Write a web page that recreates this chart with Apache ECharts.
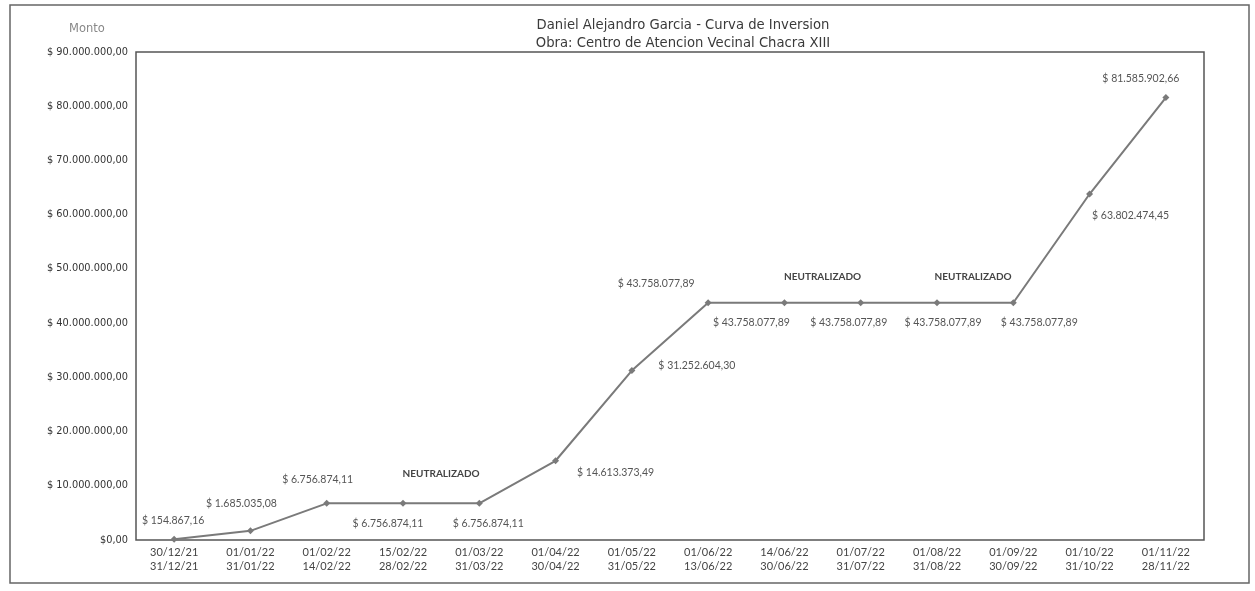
<!DOCTYPE html>
<html>
<head>
<meta charset="utf-8">
<script src="https://cdn.jsdelivr.net/npm/echarts@6/dist/echarts.min.js"></script>
<style>
  html, body { margin: 0; padding: 0; background: #ffffff; }
  #chart { width: 1255px; height: 591px; }
</style>
</head>
<body>
<div id="chart"></div>
<script>
// ---- Data ----
const periodStart = ['30/12/21','01/01/22','01/02/22','15/02/22','01/03/22','01/04/22','01/05/22','01/06/22','14/06/22','01/07/22','01/08/22','01/09/22','01/10/22','01/11/22'];
const periodEnd   = ['31/12/21','31/01/22','14/02/22','28/02/22','31/03/22','30/04/22','31/05/22','13/06/22','30/06/22','31/07/22','31/08/22','30/09/22','31/10/22','28/11/22'];
const montos = [154867.16, 1685035.08, 6756874.11, 6756874.11, 6756874.11, 14613373.49, 31252604.30, 43758077.89, 43758077.89, 43758077.89, 43758077.89, 43758077.89, 63802474.45, 81585902.66];
const yMin = 0, yMax = 90000000, yStep = 10000000;
const neutralText = 'NEUTRALIZADO';
const neutralPairs = [[3, 4], [8, 9], [10, 11]];
const titleLines = ['Daniel Alejandro Garcia - Curva de Inversion', 'Obra: Centro de Atencion Vecinal Chacra XIII'];
const yAxisName = 'Monto';

// ---- Styling (label placement around each point, in px) ----
const labelOffsets = [[-1,-19],[-9,-27],[-9,-24],[-15,20],[9,20],[60,12],[65,-5],[-52,-19],[-33,20],[-12,20],[6,20],[26,20],[41,22],[-25,-19]];
const neutralOffsets = [[0,-30],[0,-26],[-2,-26]];

function fmtNum(v) {
  const parts = v.toFixed(2).split('.');
  const ints = parts[0].replace(/\B(?=(\d{3})+(?!\d))/g, '.');
  return ints + ',' + parts[1];
}

const categories = periodStart.map((s, i) => s + '\n' + periodEnd[i]);

const chart = echarts.init(document.getElementById('chart'), null, { renderer: 'canvas' });

const option = {
  backgroundColor: '#ffffff',
  animation: false,
  title: {
    text: titleLines.join('\n'),
    left: 683, top: 17, textAlign: 'center', padding: 0,
    textStyle: { fontFamily: 'DejaVu Sans', fontSize: 13.2, fontWeight: 'normal', color: '#3a3a3a', lineHeight: 18 }
  },
  grid: {
    left: 136, right: 51, top: 52, bottom: 51,
    show: true, borderColor: '#555555', borderWidth: 1.5, backgroundColor: 'transparent'
  },
  xAxis: {
    type: 'category',
    data: categories,
    boundaryGap: true,
    axisLine: { show: false },
    axisTick: { show: false },
    axisLabel: { color: '#444444', fontFamily: 'Lato', fontSize: 11, lineHeight: 14, margin: 5, interval: 0 },
    splitLine: { show: false }
  },
  yAxis: {
    type: 'value',
    min: yMin, max: yMax, interval: yStep,
    name: yAxisName,
    nameLocation: 'end',
    nameGap: 17,
    nameTextStyle: { color: '#888888', fontFamily: 'DejaVu Sans', fontSize: 11.5, align: 'center', padding: [0, 0, 0, -98] },
    axisLine: { show: false },
    axisTick: { show: false },
    splitLine: { show: false },
    axisLabel: {
      color: '#333333', fontFamily: 'DejaVu Sans', fontSize: 9.8, margin: 8,
      formatter: v => v === 0 ? '$0,00' : '$ ' + fmtNum(v)
    }
  },
  series: [{
    type: 'line',
    data: montos.map((v, i) => ({ value: v, label: { offset: labelOffsets[i] } })),
    symbol: 'diamond',
    symbolSize: 7,
    showAllSymbol: true,
    lineStyle: { color: '#7a7a7a', width: 2 },
    itemStyle: { color: '#7a7a7a' },
    label: {
      show: true, position: 'inside',
      color: '#555555', fontFamily: 'Lato', fontSize: 10.5,
      formatter: p => '$ ' + fmtNum(p.value)
    }
  }],
  graphic: []
};

chart.setOption(option);

// Outer frame + NEUTRALIZADO annotations placed from data coordinates
const g = [{
  type: 'rect', shape: { x: 10, y: 5, width: 1239, height: 578 },
  style: { fill: 'none', stroke: '#666666', lineWidth: 1.5 }, silent: true, z: 0
}];
neutralPairs.forEach((pr, k) => {
  const a = chart.convertToPixel({ seriesIndex: 0 }, [pr[0], montos[pr[0]]]);
  const b = chart.convertToPixel({ seriesIndex: 0 }, [pr[1], montos[pr[1]]]);
  g.push({
    type: 'text',
    x: (a[0] + b[0]) / 2 + neutralOffsets[k][0],
    y: (a[1] + b[1]) / 2 + neutralOffsets[k][1],
    style: { text: neutralText, fill: '#444444', font: 'bold 10px Lato', textAlign: 'center', textVerticalAlign: 'middle' },
    silent: true, z: 10
  });
});
chart.setOption({ graphic: g });
</script>
</body>
</html>
